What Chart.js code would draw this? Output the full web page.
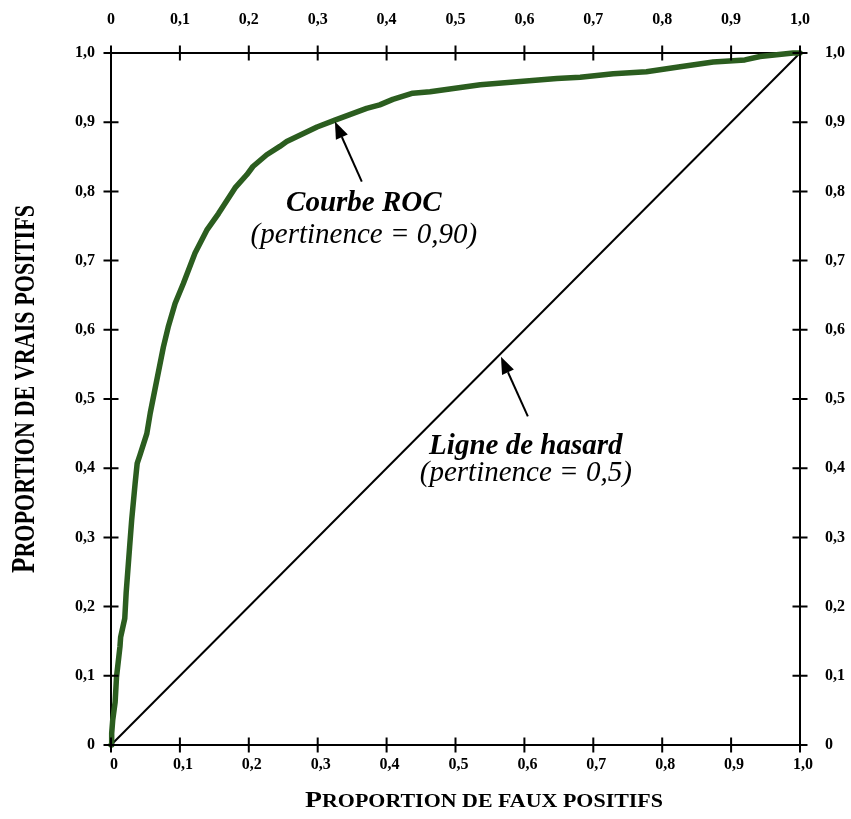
<!DOCTYPE html>
<html><head><meta charset="utf-8">
<script src="https://cdn.jsdelivr.net/npm/chart.js@4.4.1/dist/chart.umd.min.js"></script>
<style>html,body{margin:0;padding:0;background:#fff;overflow:hidden}</style>
</head><body>
<canvas id="c" width="851" height="819" style="width:851px;height:819px;display:block"></canvas>
<script>
// ---- data ----
const tickLabels = ['0','0,1','0,2','0,3','0,4','0,5','0,6','0,7','0,8','0,9','1,0'];
const rocFP = [0,0.001,0.0025,0.006,0.008,0.013,0.014,0.02,0.022,0.027,0.03,0.035,0.038,0.042,0.052,0.057,0.064,0.076,0.083,0.093,0.105,0.122,0.139,0.156,0.18,0.197,0.206,0.226,0.245,0.255,0.299,0.325,0.371,0.39,0.409,0.438,0.463,0.536,0.647,0.681,0.729,0.777,0.826,0.874,0.92,0.942,0.99,1.0];
const rocTP = [0,0.017,0.036,0.062,0.098,0.142,0.156,0.183,0.22,0.286,0.325,0.378,0.407,0.419,0.45,0.48,0.515,0.575,0.604,0.638,0.667,0.711,0.744,0.768,0.805,0.824,0.836,0.853,0.865,0.872,0.893,0.903,0.92,0.925,0.933,0.942,0.944,0.954,0.963,0.965,0.970,0.973,0.98,0.987,0.99,0.995,1.0,1.0];
const chanceFP = [0,1];
const chanceTP = [0,1];
const xTitle = ['P','ROPORTION DE FAUX POSITIFS'];
const yTitle = ['P','ROPORTION DE VRAIS POSITIFS'];
const rocLabel = ['Courbe ROC','(pertinence = 0,90)'];
const chanceLabel = ['Ligne de hasard','(pertinence = 0,5)'];

const FONT = '"Liberation Serif","Times New Roman",serif';
const toPts = (xs, ys) => xs.map((v,i)=>({x:v,y:ys[i]}));

function drawSmallCaps(ctx, parts, bigSize, smallSize, cx, cy, targetW){
  ctx.save();
  ctx.font = `bold ${bigSize}px ${FONT}`;
  const w1 = ctx.measureText(parts[0]).width;
  ctx.font = `bold ${smallSize}px ${FONT}`;
  const w2 = ctx.measureText(parts[1]).width;
  const s = targetW/(w1+w2);
  ctx.translate(cx,cy);
  ctx.scale(s,1);
  ctx.textBaseline='alphabetic';
  ctx.textAlign='left';
  ctx.fillStyle='#000';
  const x0 = -(w1+w2)/2;
  ctx.font = `bold ${bigSize}px ${FONT}`;
  ctx.fillText(parts[0], x0, 0);
  ctx.font = `bold ${smallSize}px ${FONT}`;
  ctx.fillText(parts[1], x0+w1, 0);
  ctx.restore();
}

function arrow(ctx, x1,y1,x2,y2){
  const ang = Math.atan2(y2-y1,x2-x1);
  const hl=17, hw=6.5;
  const bx = x2 - hl*Math.cos(ang), by = y2 - hl*Math.sin(ang);
  ctx.beginPath(); ctx.moveTo(x1,y1); ctx.lineTo(bx,by); ctx.stroke();
  ctx.beginPath();
  ctx.moveTo(x2,y2);
  ctx.lineTo(bx + hw*Math.sin(ang), by - hw*Math.cos(ang));
  ctx.lineTo(bx - hw*Math.sin(ang), by + hw*Math.cos(ang));
  ctx.closePath(); ctx.fill();
}

const decor = {
  id:'decor',
  afterDraw(chart){
    const {ctx, chartArea:a, scales:{x,y}} = chart;
    ctx.save();
    ctx.strokeStyle='#000'; ctx.fillStyle='#000'; ctx.lineWidth=2;
    const L=7.5;
    x.ticks.forEach(t=>{
      const p = x.getPixelForValue(t.value);
      ctx.beginPath();
      ctx.moveTo(p,a.top-L); ctx.lineTo(p,a.top+L);
      ctx.moveTo(p,a.bottom-L); ctx.lineTo(p,a.bottom+L);
      ctx.stroke();
    });
    y.ticks.forEach(t=>{
      const p = y.getPixelForValue(t.value);
      ctx.beginPath();
      ctx.moveTo(a.left-L,p); ctx.lineTo(a.left+L,p);
      ctx.moveTo(a.right-L,p); ctx.lineTo(a.right+L,p);
      ctx.stroke();
    });
    // arrows
    ctx.lineWidth=2;
    arrow(ctx, x.getPixelForValue(0.364), y.getPixelForValue(0.814), x.getPixelForValue(0.325), y.getPixelForValue(0.901));
    arrow(ctx, x.getPixelForValue(0.605), y.getPixelForValue(0.475), x.getPixelForValue(0.566), y.getPixelForValue(0.561));
    // labels
    ctx.textAlign='center'; ctx.textBaseline='middle';
    ctx.font = `bold italic 29px ${FONT}`;
    ctx.fillText(rocLabel[0], x.getPixelForValue(0.367), y.getPixelForValue(0.782));
    ctx.fillText(chanceLabel[0], x.getPixelForValue(0.602), y.getPixelForValue(0.432));
    ctx.font = `italic 29px ${FONT}`;
    ctx.fillText(rocLabel[1], x.getPixelForValue(0.367), y.getPixelForValue(0.737));
    ctx.fillText(chanceLabel[1], x.getPixelForValue(0.602), y.getPixelForValue(0.392));
    ctx.restore();
    // axis titles
    drawSmallCaps(ctx, xTitle, 24, 19, 484, 807, 358);
    ctx.save();
    ctx.translate(34, 389);
    ctx.rotate(-Math.PI/2);
    drawSmallCaps(ctx, yTitle, 33, 29, 0, 0, 368);
    ctx.restore();
  }
};

const tickFont = {family:FONT, size:16, weight:'bold'};
function axis(pos, size, pad, extra){
  const horiz = pos==='top'||pos==='bottom';
  return Object.assign({
    type:'linear', position:pos, min:0, max:1,
    grid:{display:false, drawTicks:false},
    border:{display:true, color:'#000', width:2},
    ticks:{stepSize:0.1, color:'#000', font:tickFont, padding:pad, maxRotation:0, autoSkip:false,
      callback:(v,i)=>tickLabels[i]},
    afterFit:(s)=>{ if(horiz) s.height=size; else s.width=size; }
  }, extra||{});
}

new Chart(document.getElementById('c'), {
  type:'scatter',
  data:{datasets:[
    {label:'Courbe ROC', data:toPts(rocFP,rocTP), showLine:true, borderColor:'#2b5d1f', borderWidth:5.5,
     pointRadius:0, tension:0, borderJoinStyle:'round', borderCapStyle:'round', clip:false, order:0},
    {label:'Ligne de hasard', data:toPts(chanceFP,chanceTP), showLine:true, borderColor:'#000', borderWidth:2,
     pointRadius:0, tension:0, clip:false, order:1}
  ]},
  options:{
    responsive:false, animation:false, devicePixelRatio:1,
    layout:{padding:0},
    plugins:{legend:{display:false}, tooltip:{enabled:false}},
    scales:{
      x: axis('bottom', 74, 10, {ticks:{stepSize:0.1, color:'#000', font:tickFont, padding:10, labelOffset:3, maxRotation:0, autoSkip:false, callback:(v,i)=>tickLabels[i]}}),
      x2: axis('top', 53, 24),
      y: axis('left', 111, 16),
      y2: axis('right', 51, 25)
    }
  },
  plugins:[decor]
});
</script>
</body></html>
